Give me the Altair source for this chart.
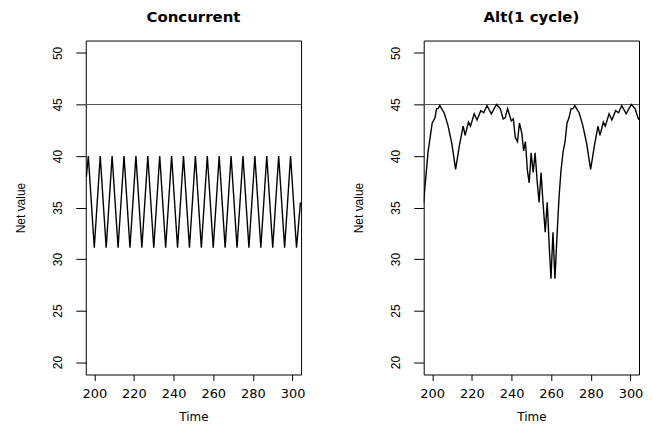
import altair as alt
import pandas as pd

# ---- data ----
conc_time = [196, 197, 200, 203, 206, 209, 212, 215, 218, 221, 224, 227, 230, 233,
             236, 239, 242, 245, 248, 251, 254, 257, 260, 263, 266, 269, 272, 275,
             278, 281, 284, 287, 290, 293, 296, 299, 302, 304]
conc_value = [38.0, 40.0, 31.1, 40.0, 31.1, 40.0, 31.1, 40.0, 31.1, 40.0, 31.1, 40.0,
              31.1, 40.0, 31.1, 40.0, 31.1, 40.0, 31.1, 40.0, 31.1, 40.0, 31.1, 40.0,
              31.1, 40.0, 31.1, 40.0, 31.1, 40.0, 31.1, 40.0, 31.1, 40.0, 31.1, 40.0,
              31.1, 35.5]

alt_time = [195.6, 197.9, 200.0, 201.4, 202.2, 203.0, 203.8, 205.0, 206.0, 207.9,
            209.9, 211.8, 213.7, 215.6, 216.6, 218.3, 219.3, 221.2, 222.6, 224.5,
            226.0, 227.6, 229.8, 232.4, 234.3, 235.8, 236.8, 238.0, 239.9, 240.9,
            241.9, 243.0, 244.0, 245.2, 246.1, 247.0, 248.0, 248.9, 249.9, 250.9,
            251.9, 252.9, 253.9, 254.9, 255.9, 257.0, 258.0, 259.0, 259.9, 260.9,
            261.9, 262.9, 263.9, 264.9, 266.0, 267.0, 268.0, 269.0, 270.0, 271.1,
            271.9, 273.1, 274.1, 275.9, 277.9, 279.9, 281.8, 283.6, 284.6, 286.3,
            287.3, 289.2, 290.6, 292.5, 294.0, 295.6, 297.8, 300.4, 302.3, 303.8,
            304.3]
alt_value = [35.4, 40.4, 43.2, 43.7, 44.6, 44.6, 44.9, 44.5, 44.2, 43.0,
             41.2, 38.7, 41.0, 42.9, 42.0, 43.3, 42.9, 44.1, 43.5, 44.4,
             44.2, 44.9, 44.1, 45.0, 44.6, 43.6, 43.7, 44.6, 43.4, 43.6,
             41.8, 41.4, 43.2, 42.2, 40.5, 41.4, 38.6, 37.4, 40.3, 38.4,
             40.3, 37.6, 35.5, 38.4, 35.4, 32.6, 35.5, 31.3, 28.1, 32.6,
             28.1, 32.1, 35.8, 38.5, 40.4, 41.4, 43.2, 43.7, 44.6, 44.6,
             44.9, 44.5, 44.2, 43.0, 41.2, 38.7, 41.0, 42.9, 42.0, 43.3,
             42.9, 44.1, 43.5, 44.4, 44.2, 44.9, 44.1, 45.0, 44.6, 43.7,
             43.5]

x_ticks = [200, 220, 240, 260, 280, 300]
y_ticks = [20, 25, 30, 35, 40, 45, 50]
ref_level = [45]

X_DOMAIN = [195.7, 304.3]
Y_DOMAIN = [18.8, 51.2]
W, H = 216, 335


def panel(times, values, title):
    df = pd.DataFrame({"Time": times, "Net value": values})
    xs = alt.Scale(domain=X_DOMAIN, nice=False, zero=False)
    ys = alt.Scale(domain=Y_DOMAIN, nice=False, zero=False)
    x_axis = alt.Axis(values=x_ticks, title="Time", tickSize=6, labelPadding=17,
                      labelBaseline="alphabetic", labelFont="DejaVu Sans",
                      labelFontSize=13, titleFont="DejaVu Sans", titleFontSize=12,
                      titleFontWeight="normal", titleBaseline="alphabetic",
                      titleY=46, labelFlush=False)
    y_axis = alt.Axis(values=y_ticks, title="Net value", tickSize=10,
                      labelPadding=14, labelAngle=270, labelAlign="center",
                      labelBaseline="alphabetic", labelFont="Liberation Sans",
                      labelFontSize=12, titleFont="Liberation Sans",
                      titleFontSize=12, titleFontWeight="normal", titleAngle=270,
                      titleAlign="center", titleBaseline="alphabetic",
                      titleX=-61, titleY=H / 2, labelFlush=False)
    rule = alt.Chart(pd.DataFrame({"level": ref_level})).mark_rule(
        color="#555555", strokeWidth=1.1
    ).encode(y=alt.Y("level:Q", scale=ys, axis=y_axis))
    line = alt.Chart(df).mark_line(color="black", strokeWidth=1.4, clip=True).encode(
        x=alt.X("Time:Q", scale=xs, axis=x_axis),
        y=alt.Y("Net value:Q", scale=ys, axis=y_axis),
    )
    return alt.layer(rule, line).properties(
        width=W, height=H,
        title=alt.TitleParams(title, font="DejaVu Sans", fontSize=15,
                              fontWeight="bold", anchor="middle",
                              baseline="alphabetic", offset=4, color="black"),
    )


left = panel(conc_time, conc_value, "Concurrent")
right = panel(alt_time, alt_value, "Alt(1 cycle)")

chart = alt.hconcat(left, right, spacing=46).properties(
    padding={"left": 6, "top": 0, "right": 0, "bottom": 0},
    background="white",
).configure_view(stroke="black", strokeWidth=1).configure_axis(
    domain=False, grid=False, tickColor="black", tickWidth=1,
    labelColor="black", titleColor="black",
)

chart.save("out.html", embed_options={"renderer": "svg", "actions": False})
